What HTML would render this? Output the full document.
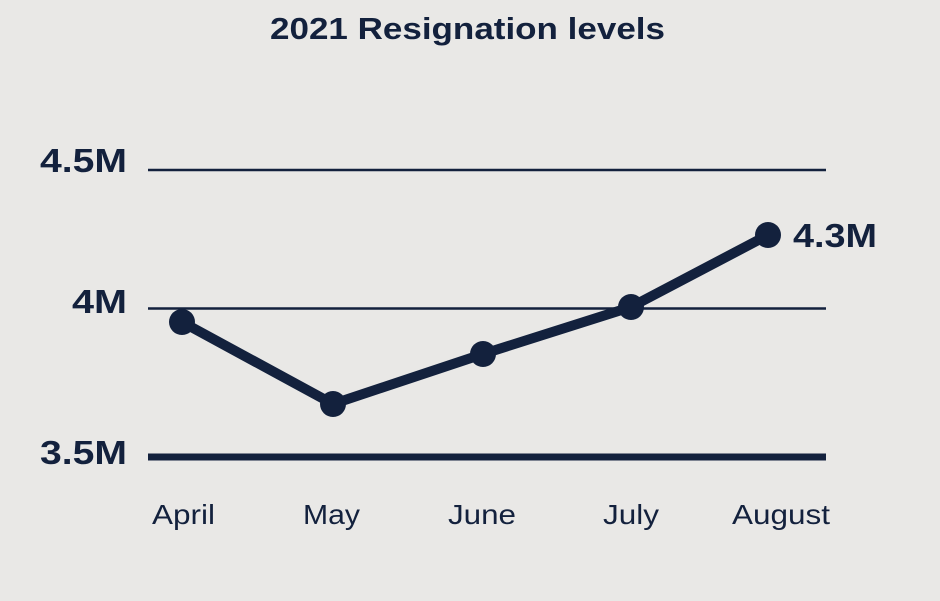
<!DOCTYPE html>
<html><head><style>
html,body{margin:0;padding:0;}
body{width:940px;height:596px;background:#e9e8e6;overflow:hidden;}
text{font-family:"Liberation Sans",sans-serif;font-weight:bold;fill:#13213d;}
</style></head><body>
<svg width="940" height="596" viewBox="0 0 940 596">
<rect width="940" height="596" fill="#e9e8e6"/>
<text x="270" y="39" font-size="31" textLength="395" lengthAdjust="spacingAndGlyphs">2021 Resignation levels</text>
<line x1="148" y1="170" x2="826" y2="170" stroke="#13213d" stroke-width="2.5"/>
<line x1="148" y1="308.5" x2="826" y2="308.5" stroke="#13213d" stroke-width="2.5"/>
<line x1="148" y1="457" x2="826" y2="457" stroke="#13213d" stroke-width="7"/>
<g font-size="33">
<text x="40" y="172" textLength="87" lengthAdjust="spacingAndGlyphs">4.5M</text>
<text x="72" y="313" textLength="55" lengthAdjust="spacingAndGlyphs">4M</text>
<text x="40" y="464" textLength="87" lengthAdjust="spacingAndGlyphs">3.5M</text>
</g>
<polyline points="182,322 333,404 483,354 631,307 768,235" fill="none" stroke="#13213d" stroke-width="10" stroke-linejoin="round"/>
<g fill="#13213d">
<circle cx="182" cy="322" r="13"/><circle cx="333" cy="404" r="13"/><circle cx="483" cy="354" r="13"/><circle cx="631" cy="307" r="13"/><circle cx="768" cy="235" r="13"/>
</g>
<text x="793" y="247" font-size="33" textLength="84" lengthAdjust="spacingAndGlyphs">4.3M</text>
<g font-size="28">
<text x="152" y="524" style="font-weight:normal" textLength="63" lengthAdjust="spacingAndGlyphs">April</text>
<text x="303" y="524" style="font-weight:normal" textLength="57" lengthAdjust="spacingAndGlyphs">May</text>
<text x="448" y="524" style="font-weight:normal" textLength="68" lengthAdjust="spacingAndGlyphs">June</text>
<text x="603" y="524" style="font-weight:normal" textLength="56" lengthAdjust="spacingAndGlyphs">July</text>
<text x="732" y="524" style="font-weight:normal" textLength="98" lengthAdjust="spacingAndGlyphs">August</text>
</g>
</svg>
</body></html>
